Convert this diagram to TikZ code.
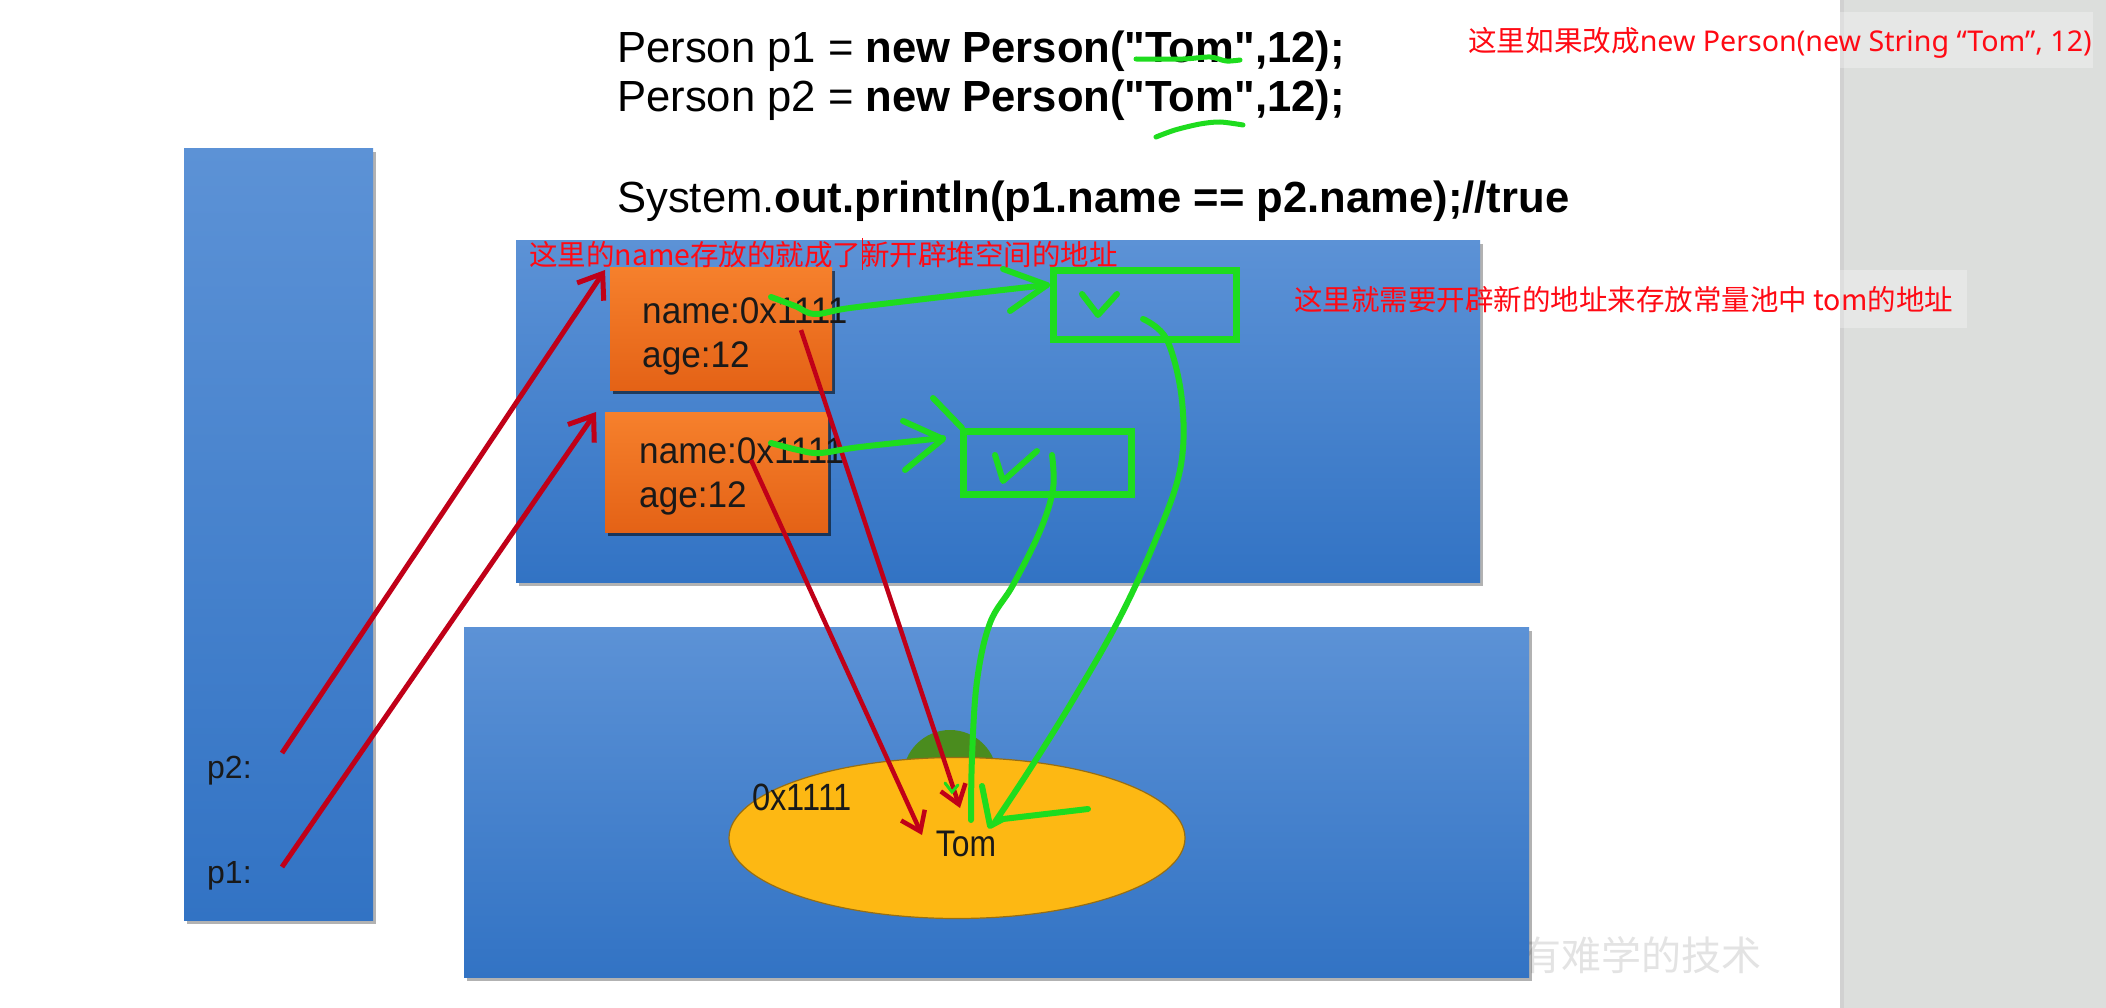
\documentclass[tikz,border=0pt]{standalone}
\usepackage{fontspec}
\setmainfont{Liberation Sans}[Ligatures=TeXOff]
\newfontfamily\cjk{Noto Sans CJK SC}
\newfontfamily\lat{Noto Sans}
\usetikzlibrary{arrows.meta,shapes.geometric,shadows}

\definecolor{redarr}{RGB}{192,0,24}
\definecolor{annred}{RGB}{255,10,20}
\definecolor{gpen}{RGB}{30,220,30}
\definecolor{bluetop}{RGB}{92,146,214}
\definecolor{bluebot}{RGB}{50,115,196}
\definecolor{orgtop}{RGB}{246,128,44}
\definecolor{orgbot}{RGB}{228,98,22}
\definecolor{gold}{RGB}{253,184,19}
\definecolor{goldedge}{RGB}{150,110,20}
\definecolor{domegreen}{RGB}{74,140,30}
\definecolor{panel}{RGB}{220,222,220}
\definecolor{ink}{RGB}{25,25,25}

\newcommand{\nar}[2]{\scalebox{#1}[1]{#2}}

\begin{document}
\begin{tikzpicture}[x=1pt,y=-1pt,
  bluebox/.style={draw=none, top color=bluetop, bottom color=bluebot, inner sep=0pt, anchor=north west,
    drop shadow={shadow xshift=3pt, shadow yshift=-4pt, opacity=0.3, fill=black}},
  orgbox/.style={draw=none, top color=orgtop, bottom color=orgbot, inner sep=0pt, anchor=north west,
    drop shadow={shadow xshift=3pt, shadow yshift=-4pt, opacity=0.55, fill=black}},
  gbox/.style={draw=gpen, line width=7pt, inner sep=0pt, anchor=north west},
  gstroke/.style={draw=gpen, line width=6pt, line cap=round, line join=round},
  redarrow/.style={draw=redarr, line width=5pt, -{Straight Barb[length=22pt,width=32pt]}},
  redthin/.style={draw=redarr, line width=4.5pt, -{Straight Barb[length=18pt,width=26pt]}},
  codetxt/.style={anchor=base west, inner sep=0pt, text=black, font=\fontsize{43.6}{50}\selectfont},
  boxtxt/.style={anchor=base west, inner sep=0pt, text=ink, font=\fontsize{37}{44}\selectfont},
  ann/.style={anchor=west, inner sep=0pt, text=annred, font=\fontsize{28.5}{32}\selectfont},
]
\useasboundingbox (0,0) rectangle (2106,1008);
\fill[white] (0,0) rectangle (2106,1008);
% right gray panel
\fill[panel] (1840,0) rectangle (2106,1008);
\fill[black!18] (1840,0) rectangle (1844,1008);
% light boxes behind annotations
\fill[white, opacity=0.3] (1450,12) rectangle (2093,68);
\fill[white, opacity=0.3] (1480,270) rectangle (1967,328);

% watermark
\node[anchor=west, inner sep=0pt, text=black!11, font=\cjk\fontsize{40}{40}\selectfont] (wm) at (1521,955) {有难学的技术};

% code
\node[codetxt] (c1) at (617,63) {Person p1 = \textbf{new Person("Tom",12);}};
\node[codetxt] (c2) at (617,112) {Person p2 = \textbf{new Person("Tom",12);}};
\node[codetxt] (c3) at (617,213) {System.\textbf{out.println(p1.name == p2.name);//true}};

% memory areas
\node[bluebox, minimum width=189pt, minimum height=772pt] (stack) at (184,148) {};
\node[bluebox, minimum width=964pt, minimum height=342pt] (heap) at (516,240) {};
\node[bluebox, minimum width=1065pt, minimum height=350pt] (pool) at (464,627) {};

% string constant pool
\fill[domegreen] (950,777) circle[radius=47pt];
\node[ellipse, fill=gold, draw=goldedge, line width=1.2pt, minimum width=456pt, minimum height=161pt, inner sep=0pt] (tomell) at (957,838) {};
\node[anchor=center, inner sep=0pt, text=ink, font=\fontsize{38}{40}\selectfont] (addr) at (802,797) {\nar{0.86}{0x1111}};
\node[anchor=center, inner sep=0pt, text=ink, font=\fontsize{37}{40}\selectfont] (tom) at (966,844) {\nar{0.86}{Tom}};

% person objects
\node[orgbox, minimum width=222pt, minimum height=123pt] (obj1) at (610,267) {};
\node[orgbox, minimum width=223pt, minimum height=120pt] (obj2) at (605,412) {};
\node[boxtxt] (n1) at (642,323) {\nar{0.95}{name:0x1111}};
\node[boxtxt] (a1) at (642,367) {\nar{0.95}{age:12}};
\node[boxtxt] (n2) at (639,463) {\nar{0.95}{name:0x1111}};
\node[boxtxt] (a2) at (639,507) {\nar{0.95}{age:12}};

% stack variables
\node[anchor=base west, inner sep=0pt, text=ink, font=\fontsize{32}{36}\selectfont] (p2) at (207,778) {p2:};
\node[anchor=base west, inner sep=0pt, text=ink, font=\fontsize{32}{36}\selectfont] (p1) at (207,883) {p1:};

% coordinates for connectors
\coordinate (p2s) at (282,753);
\coordinate (p1s) at (282,867);
\coordinate (o1tip) at (605,270);
\coordinate (o2tip) at (596,412);
\coordinate (n2s) at (751,460);
\coordinate (n1s) at (801,330);
\coordinate (tomA) at (922,835);
\coordinate (tomB) at (960,808);

% red arrows
\draw[redarrow] (p2s) -- (o1tip);
\draw[redarrow] (p1s) -- (o2tip);
\draw[redthin] (n2s) -- (tomA);
\draw[redthin] (n1s) -- (tomB);

% green hand-drawn boxes
\node[gbox, minimum width=183pt, minimum height=69pt] (g1) at (1050,267) {};
\node[gbox, minimum width=168pt, minimum height=63pt] (g2) at (960,428) {};
\draw[gstroke] (933,398) -- (962,428);
% ticks inside green boxes
\draw[gstroke] (1082,294) -- (1098,315) -- (1117,294);
\draw[gstroke] (995,455) -- (1003,481) -- (1037,451);

% green arrows: name -> new String objects
\draw[gstroke] plot[smooth, tension=0.6] coordinates {(771,297) (795,306) (815,314) (850,308) (950,296) (1047,285)};
\draw[gstroke] (1003,269) -- (1047,285) -- (1010,311);
\draw[gstroke] plot[smooth, tension=0.6] coordinates {(771,443) (798,450) (820,453) (860,447) (943,438)};
\draw[gstroke] (903,421) -- (943,439) -- (905,470);

% green curves: String objects -> Tom
\draw[gstroke] plot[smooth, tension=0.6] coordinates {(1143,319) (1167,340) (1182,401) (1180,470) (1153,546) (1117,623) (1073,700) (1030,769) (995,822)};
\draw[gstroke] (982,786) -- (990,826) -- (1003,819) -- (1088,809);
\draw[gstroke] plot[smooth, tension=0.6] coordinates {(1052,455) (1053,489) (1040,531) (1013,585) (990,623) (977,681) (972,757) (971,820)};
\draw[draw=gpen, line width=3pt, line cap=round] (945,783) -- (952,792) -- (958,785);

% green underlines in code
\draw[draw=gpen, line width=5pt, line cap=round] plot[smooth] coordinates {(1136,59) (1183,59) (1210,57) (1226,61) (1240,60)};
\draw[draw=gpen, line width=5pt, line cap=round] plot[smooth] coordinates {(1156,137) (1175,130) (1200,124) (1220,122) (1243,125)};

% annotations
\node[ann, font=\fontsize{28.6}{32}\selectfont] (ann0) at (1468,43) {{\cjk 这里如果改成}{\lat new Person(new String “Tom”, 12)}};
\node[ann, font=\cjk\fontsize{28.5}{32}\selectfont] (ann1) at (529,255) {这里的name存放的就成了新开辟堆空间的地址};
\draw[annred, line width=1pt] (862,238) -- (862,270);
\node[ann, font=\cjk\fontsize{28.5}{32}\selectfont] (ann2) at (1294,300) {这里就需要开辟新的地址来存放常量池中 tom的地址};
\end{tikzpicture}
\end{document}
